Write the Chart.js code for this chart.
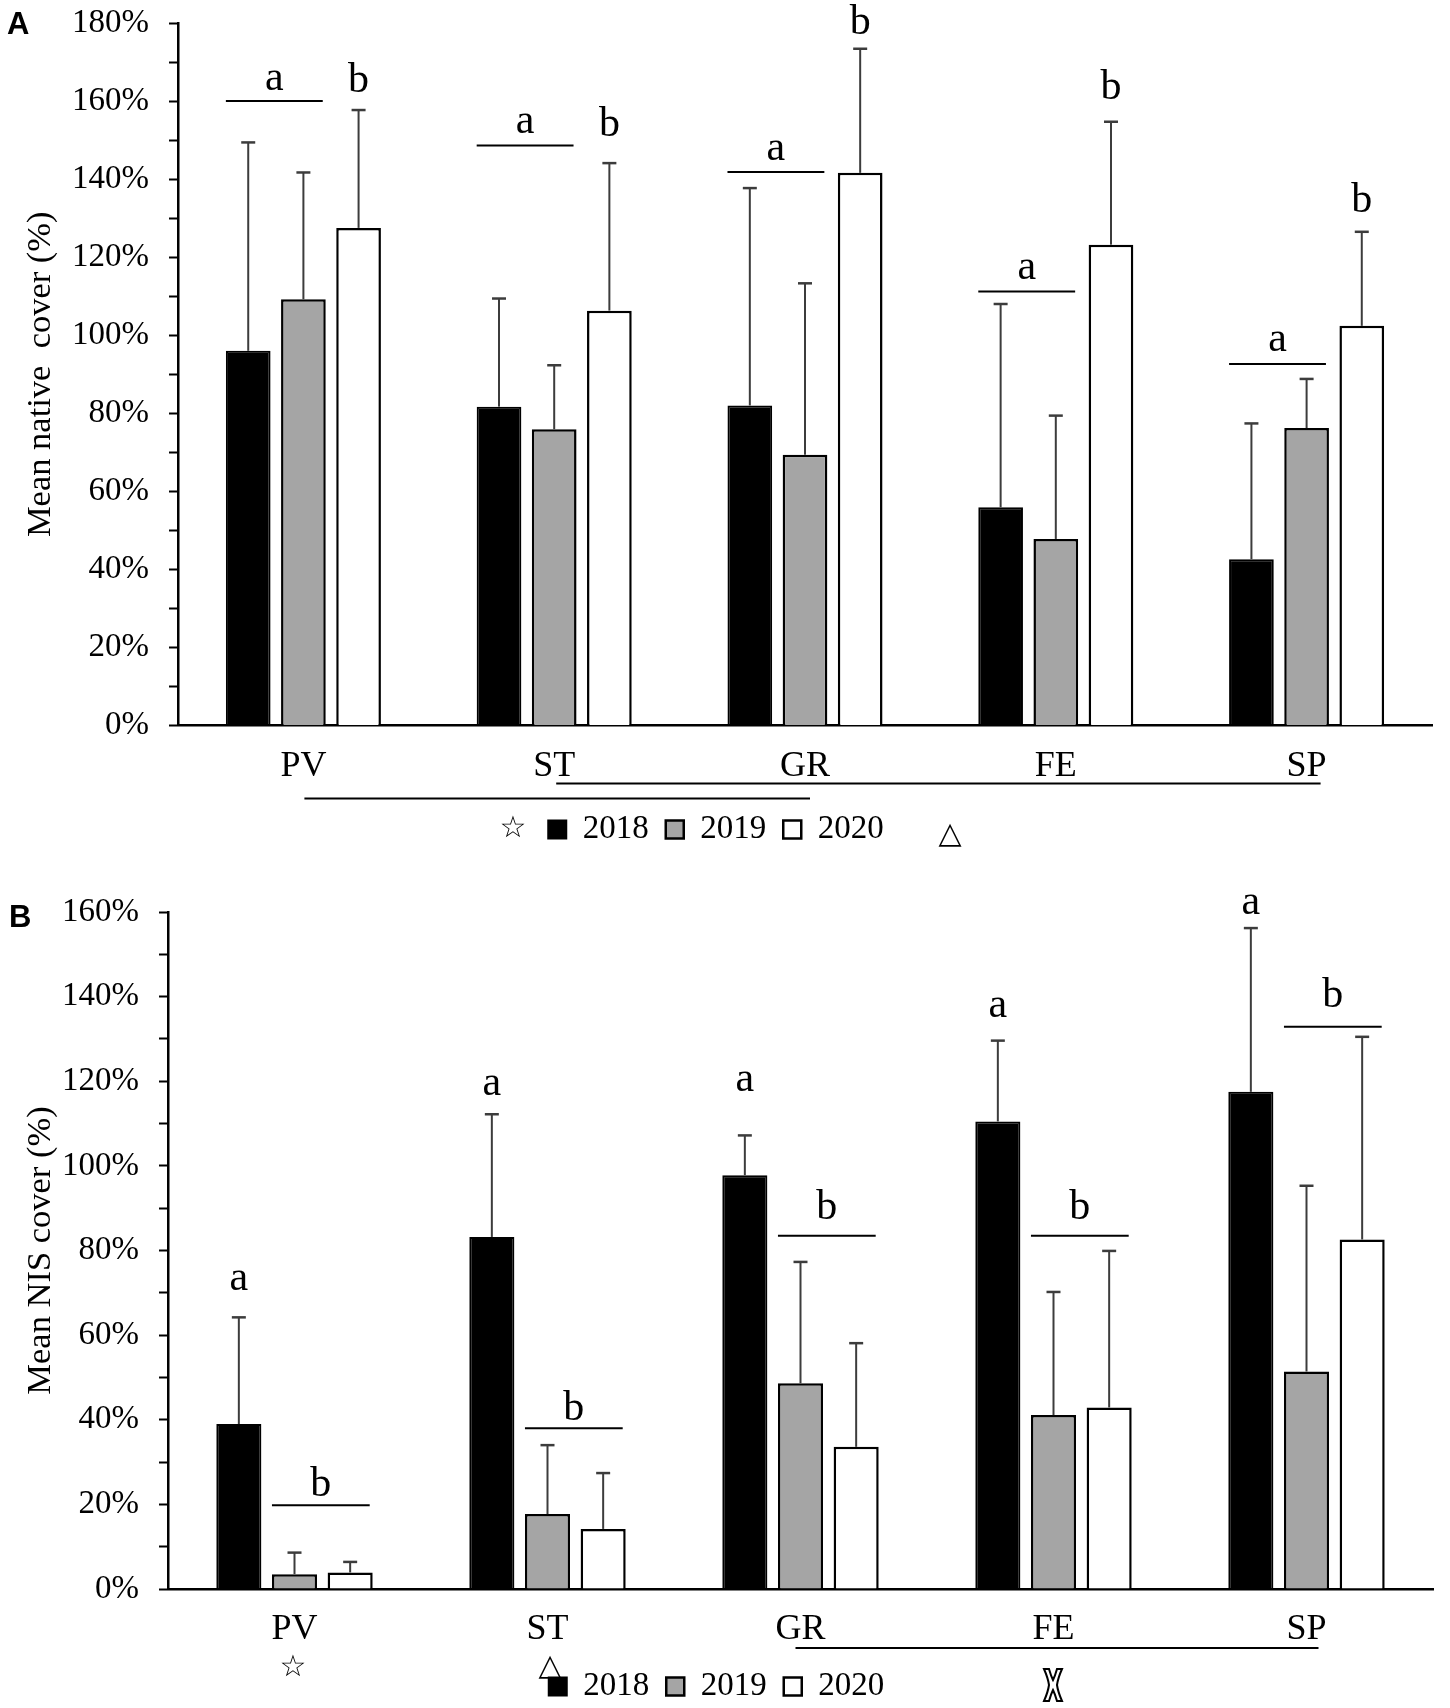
<!DOCTYPE html>
<html>
<head>
<meta charset="utf-8">
<script src="https://cdn.jsdelivr.net/npm/chart.js@4.4.1/dist/chart.umd.min.js"></script>
<style>
  html, body { margin: 0; padding: 0; background: #fff; overflow: hidden; }
  .panel { position: absolute; left: 0; width: 1450px; }
  #wrapA { top: 0; height: 856px; }
  #wrapB { top: 850px; height: 863px; }
</style>
</head>
<body>
<div class="panel" id="wrapA"><canvas id="chartA"></canvas></div>
<div class="panel" id="wrapB"><canvas id="chartB"></canvas></div>
<script>
const sites = ['PV', 'ST', 'GR', 'FE', 'SP'];
const years = ['2018', '2019', '2020'];

// panel A: mean native cover (%) and the upper error bar (SD)
const native2018 = [96.0, 81.7, 82.0, 55.9, 42.6];
const native2019 = [109.2, 75.9, 69.4, 47.8, 76.2];
const native2020 = [127.5, 106.3, 141.6, 123.2, 102.4];
const nativeSd2018 = [53.4, 27.7, 55.7, 52.1, 34.8];
const nativeSd2019 = [32.5, 16.4, 43.9, 31.6, 12.6];
const nativeSd2020 = [30.2, 37.8, 31.8, 31.5, 24.1];

// panel B: mean NIS cover (%) and SD
const nis2018 = [39.0, 83.2, 97.8, 110.5, 117.5];
const nis2019 = [3.5, 17.7, 48.6, 41.1, 51.4];
const nis2020 = [3.9, 14.2, 33.6, 42.9, 82.6];
const nisSd2018 = [25.2, 29.0, 9.4, 19.1, 38.7];
const nisSd2019 = [5.1, 16.3, 28.7, 29.1, 43.9];
const nisSd2020 = [2.5, 13.2, 24.5, 37.0, 47.9];

// significance letters (levels in % of the value axis)
const nativeLineA = [160, 148.6, 141.8, 111.2, 92.6];
const nativeLetterA = [165.4, 154.4, 147.4, 116.9, 98.5];
const nativeLetterB = [166.2, 155, 181, 164.4, 135.3];
const nisLetterA = [73, 119, 120, 137.5, 162];
const nisLineB = [19.8, 38.0, 83.5, 83.5, 132.9];
const nisLetterB = [25.5, 43.5, 91, 91, 141];

const serif = '"Liberation Serif", "Times New Roman", serif';

function drawLetter(ctx, text, x, yc) {
  ctx.font = '42px ' + serif;
  ctx.textAlign = 'center';
  ctx.textBaseline = 'alphabetic';
  const m = ctx.measureText(text);
  ctx.fillText(text, x, yc + (m.actualBoundingBoxAscent - m.actualBoundingBoxDescent) / 2);
}

function drawCross(ctx, x, y) {
  // outlined curved saltire used as group marker
  ctx.beginPath();
  ctx.moveTo(x - 9, y - 16);
  ctx.lineTo(x - 4, y - 16);
  ctx.quadraticCurveTo(x - 2, y - 9, x, y - 5);
  ctx.quadraticCurveTo(x + 2, y - 9, x + 4, y - 16);
  ctx.lineTo(x + 9, y - 16);
  ctx.quadraticCurveTo(x + 5, y - 7, x + 4, y);
  ctx.quadraticCurveTo(x + 5, y + 7, x + 9, y + 16);
  ctx.lineTo(x + 4, y + 16);
  ctx.quadraticCurveTo(x + 2, y + 9, x, y + 5);
  ctx.quadraticCurveTo(x - 2, y + 9, x - 4, y + 16);
  ctx.lineTo(x - 9, y + 16);
  ctx.quadraticCurveTo(x - 5, y + 7, x - 4, y);
  ctx.quadraticCurveTo(x - 5, y - 7, x - 9, y - 16);
  ctx.closePath();
  ctx.fillStyle = '#fff';
  ctx.fill();
  ctx.lineWidth = 2;
  ctx.strokeStyle = '#000';
  ctx.stroke();
}

const annotate = {
  id: 'annotate',
  afterDatasetsDraw(chart, args, opts) {
    const ctx = chart.ctx;
    const y = chart.scales.y;
    ctx.save();
    // upper error bars
    opts.errors.forEach((sd, i) => {
      const meta = chart.getDatasetMeta(i);
      meta.data.forEach((bar, j) => {
        const top = y.getPixelForValue(chart.data.datasets[i].data[j] + sd[j]);
        ctx.strokeStyle = '#3c3c3c';
        ctx.lineWidth = 2;
        ctx.beginPath();
        ctx.moveTo(bar.x, bar.y);
        ctx.lineTo(bar.x, top);
        ctx.stroke();
        ctx.lineWidth = 2.5;
        ctx.beginPath();
        ctx.moveTo(bar.x - 7, top);
        ctx.lineTo(bar.x + 7, top);
        ctx.stroke();
      });
    });
    ctx.fillStyle = '#000';
    // bracket lines with a letter over them
    opts.brackets.forEach(b => {
      const m0 = chart.getDatasetMeta(b.first);
      const m1 = chart.getDatasetMeta(b.last);
      b.levels.forEach((lv, j) => {
        const x0 = m0.data[j].x - m0.data[j].width / 2;
        const x1 = m1.data[j].x + m1.data[j].width / 2 - 3;
        const yy = y.getPixelForValue(lv);
        ctx.strokeStyle = '#000';
        ctx.lineWidth = 2;
        ctx.beginPath();
        ctx.moveTo(x0, yy);
        ctx.lineTo(x1, yy);
        ctx.stroke();
        drawLetter(ctx, b.letter, (x0 + x1) / 2, y.getPixelForValue(b.letterLevels[j]));
      });
    });
    // single letters over one bar
    opts.letters.forEach(l => {
      const meta = chart.getDatasetMeta(l.ds);
      l.levels.forEach((lv, j) => {
        drawLetter(ctx, l.letter, meta.data[j].x, y.getPixelForValue(lv));
      });
    });
    ctx.restore();
  },
  afterDraw(chart, args, opts) {
    const ctx = chart.ctx;
    const x = chart.scales.x;
    const base = chart.chartArea.bottom;
    ctx.save();
    ctx.strokeStyle = '#000';
    ctx.lineWidth = 2;
    opts.groupLines.forEach(g => {
      ctx.beginPath();
      ctx.moveTo(x.getPixelForValue(g.from) + g.padL, base + g.dy);
      ctx.lineTo(x.getPixelForValue(g.to) + g.padR, base + g.dy);
      ctx.stroke();
    });
    ctx.fillStyle = '#000';
    ctx.textAlign = 'center';
    ctx.textBaseline = 'middle';
    ctx.font = '30px "DejaVu Sans"';
    opts.symbols.forEach(s => {
      if (s.text === 'cross') drawCross(ctx, s.x, base + s.dy);
      else { ctx.fillStyle = '#000'; ctx.fillText(s.text, s.x, base + s.dy); }
    });
    ctx.fillStyle = '#000';
    ctx.font = 'bold 31px "Liberation Sans", Arial, sans-serif';
    ctx.textAlign = 'left';
    ctx.fillText(opts.panel, opts.panelX, opts.panelY);
    ctx.restore();
  }
};

function makeChart(id, cfg) {
  return new Chart(document.getElementById(id), {
    type: 'bar',
    data: {
      labels: sites,
      datasets: [
        { label: years[0], data: cfg.values[0], backgroundColor: '#000', borderColor: '#000', borderWidth: 2 },
        { label: years[1], data: cfg.values[1], backgroundColor: '#a5a5a5', borderColor: '#000', borderWidth: 2.5 },
        { label: years[2], data: cfg.values[2], backgroundColor: '#fff', borderColor: '#000', borderWidth: 2.5 }
      ]
    },
    options: {
      responsive: true,
      maintainAspectRatio: false,
      animation: false,
      datasets: { bar: { categoryPercentage: 0.66, barPercentage: 0.81 } },
      layout: { padding: { top: cfg.top, right: cfg.right, bottom: 0, left: 0 } },
      scales: {
        x: {
          grid: { display: false },
          border: { display: true, color: '#000', width: 2.5 },
          ticks: { color: '#000', padding: 11, font: { family: serif, size: 36 } },
          afterFit: s => { s.height = cfg.xHeight; }
        },
        y: {
          min: 0,
          max: cfg.max,
          grid: { drawOnChartArea: false, drawTicks: true, tickLength: 9, tickColor: '#000', tickWidth: 2 },
          border: { display: true, color: '#000', width: 2.5 },
          ticks: {
            stepSize: 10,
            autoSkip: false,
            color: '#000',
            padding: 20,
            font: { family: serif, size: 33 },
            callback: v => (v % 20 === 0 ? v + '%' : '')
          },
          title: {
            display: true,
            text: cfg.title,
            color: '#000',
            font: { family: serif, size: 34.5 },
            padding: { top: 20, bottom: 0 }
          },
          afterFit: s => {
            s.width = cfg.yWidth;
            s.paddingTop = 0;
            s.paddingBottom = 0;
          }
        }
      },
      plugins: {
        tooltip: { enabled: false },
        legend: {
          position: 'bottom',
          labels: { color: '#000', font: { family: serif, size: 33 }, boxWidth: 18, boxHeight: 18, padding: 17 }
        },
        annotate: cfg.annotate
      }
    },
    plugins: [annotate]
  });
}

makeChart('chartA', {
  values: [native2018, native2019, native2020],
  max: 180,
  top: 23,
  right: 18,
  xHeight: 70.5,
  yWidth: 178,
  title: 'Mean native  cover (%)',
  annotate: {
    errors: [nativeSd2018, nativeSd2019, nativeSd2020],
    brackets: [{ first: 0, last: 1, levels: nativeLineA, letter: 'a', letterLevels: nativeLetterA }],
    letters: [{ ds: 2, letter: 'b', levels: nativeLetterB }],
    groupLines: [
      { from: 1, to: 4, dy: 58, padL: 2, padR: 14 },
      { from: 0, to: 2, dy: 73, padL: 1, padR: 5 }
    ],
    symbols: [{ text: '\u2606', x: 513, dy: 104 }, { text: '\u25B3', x: 950, dy: 110 }],
    panel: 'A', panelX: 7, panelY: 25
  }
});

makeChart('chartB', {
  values: [nis2018, nis2019, nis2020],
  max: 160,
  top: 62,
  right: 17,
  xHeight: 64,
  yWidth: 168,
  title: 'Mean NIS cover (%)',
  annotate: {
    errors: [nisSd2018, nisSd2019, nisSd2020],
    brackets: [{ first: 1, last: 2, levels: nisLineB, letter: 'b', letterLevels: nisLetterB }],
    letters: [{ ds: 0, letter: 'a', levels: nisLetterA }],
    groupLines: [{ from: 2, to: 4, dy: 59, padL: -5, padR: 12 }],
    symbols: [
      { text: '\u2606', x: 293, dy: 79 },
      { text: '\u25B3', x: 550, dy: 78 },
      { text: 'cross', x: 1053, dy: 96 }
    ],
    panel: 'B', panelX: 9, panelY: 68
  }
});
</script>
</body>
</html>
